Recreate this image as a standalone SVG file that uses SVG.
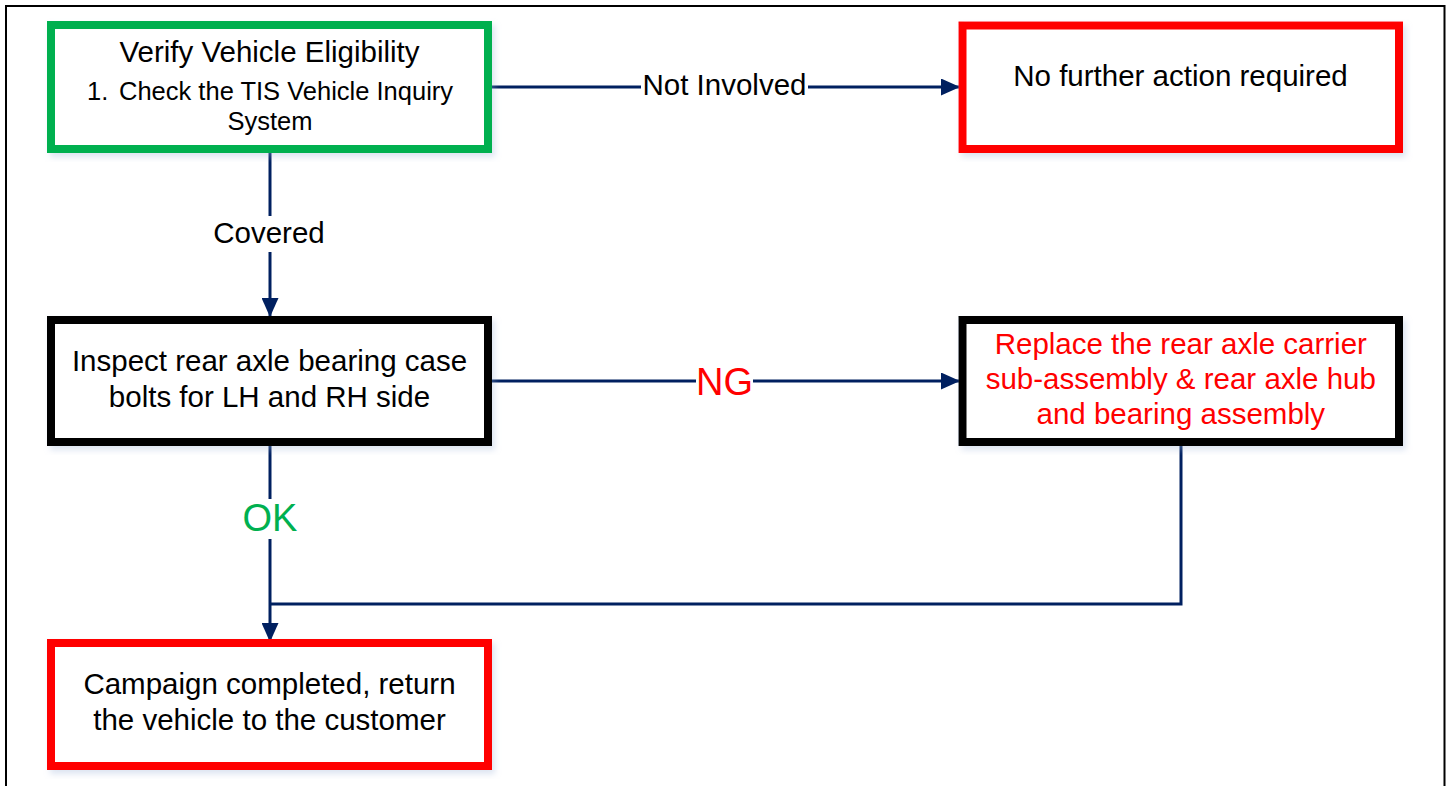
<svg xmlns="http://www.w3.org/2000/svg" width="1447" height="786" viewBox="0 0 1447 786">
  <style>
    text { font-family: "Liberation Sans", Arial, sans-serif; text-anchor: middle; }
    .t { font-size: 29.5px; fill: #000; }
    .sm { font-size: 25.5px; fill: #000; }
    .box { fill: #fff; stroke-width: 8; }
    .green { stroke: #00B050; }
    .red { stroke: #FF0000; }
    .black { stroke: #000; }
    .conn { fill: none; stroke: #002060; stroke-width: 3; }
    .lblbg { fill: #fff; }
  </style>
  <defs>
    <marker id="arr" markerUnits="userSpaceOnUse" markerWidth="19" markerHeight="17" refX="19" refY="8.5" orient="auto">
      <path d="M0,0 L19,8.5 L0,17 Z" fill="#002060"/>
    </marker>
    <filter id="sh" x="-5%" y="-5%" width="112%" height="115%">
      <feDropShadow dx="3" dy="4" stdDeviation="3" flood-color="#9DB4D8" flood-opacity="0.35"/>
    </filter>
  </defs>
  <rect x="0" y="0" width="1447" height="786" fill="#fff"/>
  <path d="M6,786 V6 H1444.5 V786" fill="none" stroke="#000" stroke-width="2"/>

  <g id="connectors">
    <path class="conn" d="M488,87 H960" marker-end="url(#arr)"/>
    <path class="conn" d="M270,153 V317" marker-end="url(#arr)"/>
    <path class="conn" d="M488,381 H960" marker-end="url(#arr)"/>
    <path class="conn" d="M270,446 V642" marker-end="url(#arr)"/>
    <path class="conn" d="M1181,446 V604 H270"/>
    <rect class="lblbg" x="641" y="66" width="167" height="40"/>
    <text class="t" x="724.5" y="95">Not Involved</text>
    <rect class="lblbg" x="210" y="216" width="118" height="36"/>
    <text class="t" x="269" y="243">Covered</text>
    <rect class="lblbg" x="696" y="360" width="57" height="44"/>
    <text x="724.5" y="395" style="font-size:38px;fill:#FF0000">NG</text>
    <rect class="lblbg" x="240" y="499" width="60" height="40"/>
    <text x="270" y="531" style="font-size:38px;fill:#00B050">OK</text>
  </g>

  <g id="verify">
    <rect class="box green" x="51" y="25" width="437" height="124" filter="url(#sh)"/>
    <text class="t" x="269.5" y="62">Verify Vehicle Eligibility</text>
    <text class="sm" x="87" y="100" style="text-anchor:start">1.</text>
    <text class="sm" x="119" y="100" style="text-anchor:start">Check the TIS Vehicle Inquiry</text>
    <text class="sm" x="270" y="130">System</text>
  </g>

  <g id="no-action">
    <rect class="box red" x="962.5" y="25.5" width="436.5" height="123.5" filter="url(#sh)"/>
    <text class="t" x="1180.5" y="86">No further action required</text>
  </g>

  <g id="inspect">
    <rect class="box black" x="51" y="320" width="437" height="122" filter="url(#sh)"/>
    <text class="t" x="269.5" y="371">Inspect rear axle bearing case</text>
    <text class="t" x="269.5" y="407">bolts for LH and RH side</text>
  </g>

  <g id="replace">
    <rect class="box black" x="962.5" y="320" width="436.5" height="122" filter="url(#sh)"/>
    <text class="t" x="1180.8" y="354" style="fill:#FF0000">Replace the rear axle carrier</text>
    <text class="t" x="1180.8" y="389" style="fill:#FF0000">sub-assembly &amp; rear axle hub</text>
    <text class="t" x="1180.8" y="423.5" style="fill:#FF0000">and bearing assembly</text>
  </g>

  <g id="completed">
    <rect class="box red" x="51" y="643" width="437" height="123" filter="url(#sh)"/>
    <text class="t" x="269.5" y="694">Campaign completed, return</text>
    <text class="t" x="269.5" y="730">the vehicle to the customer</text>
  </g>
</svg>
